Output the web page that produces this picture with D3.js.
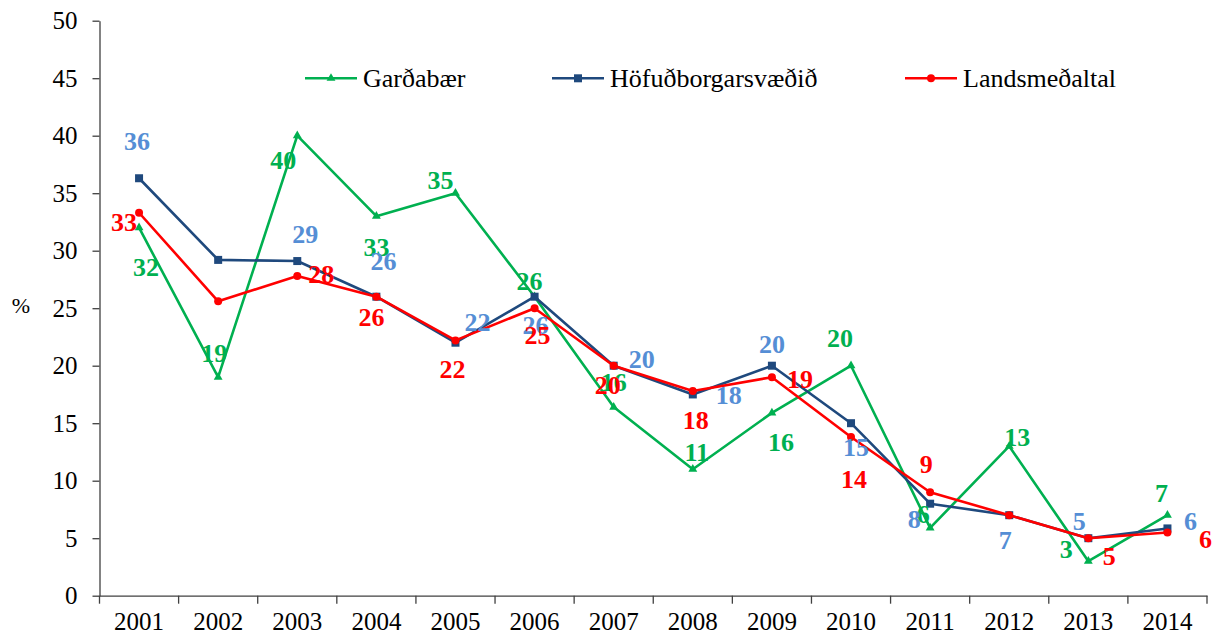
<!DOCTYPE html>
<html>
<head>
<meta charset="utf-8">
<script src="https://cdn.jsdelivr.net/npm/d3@7"></script>
<style>
  html, body { margin: 0; padding: 0; background: #fff; }
  svg { display: block; }
</style>
</head>
<body>
<svg id="chart" width="1224" height="641"></svg>
<script>
// ---- data ----
const years = ["2001","2002","2003","2004","2005","2006","2007","2008","2009","2010","2011","2012","2013","2014"];
const gardabaer = [32, 19, 40, 33, 35, 26, 16.4, 11, 15.9, 20, 5.9, 13, 3, 7];
const hofudborg = [36.3, 29.2, 29.1, 26, 22, 26, 20, 17.5, 20, 15, 8, 7, 5, 5.85];
const lands = [33.3, 25.6, 27.8, 26, 22.2, 25, 20, 17.8, 19, 13.8, 9, 7, 5, 5.5];
const yTicks = [0, 5, 10, 15, 20, 25, 30, 35, 40, 45, 50];
const seriesNames = ["Garðabær", "Höfuðborgarsvæðið", "Landsmeðaltal"];

// ---- label placement (layout only): [dx, dy] from point to label center/baseline; null = no label ----
const gLabelOff = [[7,48],[-4,-15],[-14,33],[0,40],[-15,-4],[-5,-7],[0,-16],[4,-8],[9,38],[-11,-19],[-7,-5],[8,0],[-22,-3],[-6,-13]];
const hLabelOff = [[-2,-28],null,[8,-18],[7,-27],[22,-12],[1,37],[28,2],[36,10],[0,-13],[5,33],[-16,24],[-4,34],[-9,-8],[23,2]];
const lLabelOff = [[-15,18],null,[24,7],[-5,29],[-3,38],[3,36],[-6,28],[3,38],[28,11],[3,51],[-4,-19],null,[21,27],[38,16]];

const svg = d3.select("#chart");
const mLeft = 99.5, mRight = 1207, mTop = 20.7, mBottom = 595.7;

const x = d3.scaleBand().domain(years).range([mLeft, mRight]).padding(0);
const y = d3.scaleLinear().domain([0, 50]).range([mBottom, mTop]);
const cx = d => x(d) + x.bandwidth() / 2;

const serif = "'Liberation Serif', 'Times New Roman', serif";
const axisColor = "#404040";

// Y axis
const yAxis = svg.append("g").attr("transform", `translate(${mLeft},0)`)
  .call(d3.axisLeft(y).tickValues(yTicks).tickSize(7).tickPadding(15).tickSizeOuter(0));
yAxis.select(".domain").attr("stroke", axisColor).attr("stroke-width", 1.3);
yAxis.selectAll(".tick line").attr("stroke", axisColor).attr("stroke-width", 1.3);
yAxis.selectAll(".tick text").attr("font-family", serif).attr("font-size", 25).attr("fill", "#000");

// X axis
const xAxis = svg.append("g").attr("transform", `translate(0,${mBottom})`)
  .call(d3.axisBottom(x).tickSize(0).tickPadding(17).tickSizeOuter(0));
xAxis.select(".domain").attr("stroke", axisColor).attr("stroke-width", 1.3);
xAxis.selectAll(".tick text").attr("font-family", serif).attr("font-size", 25).attr("fill", "#000");
const bounds = years.map(d => x(d)).concat([mRight]);
xAxis.selectAll("line.bound").data(bounds).enter().append("line")
  .attr("class", "bound")
  .attr("x1", d => d).attr("x2", d => d).attr("y1", 0).attr("y2", 8)
  .attr("stroke", axisColor).attr("stroke-width", 1.3);

// % label
svg.append("text").attr("x", 21).attr("y", 313).attr("text-anchor", "middle")
  .attr("font-family", serif).attr("font-size", 22).text("%");

const series = [
  { name: seriesNames[0], values: gardabaer, color: "#00B050", labelColor: "#00B050", marker: "tri", off: gLabelOff },
  { name: seriesNames[1], values: hofudborg, color: "#1F497D", labelColor: "#558ED5", marker: "sq", off: hLabelOff },
  { name: seriesNames[2], values: lands, color: "#FF0000", labelColor: "#FF0000", marker: "circ", off: lLabelOff }
];

const line = d3.line().x((d, i) => cx(years[i])).y(d => y(d));

function drawMarker(g, mx, my, type, color) {
  if (type === "tri") {
    g.append("path").attr("d", d3.symbol(d3.symbolTriangle, 34)()).attr("transform", `translate(${mx},${my})`).attr("fill", color);
  } else if (type === "sq") {
    g.append("rect").attr("x", mx - 4).attr("y", my - 4).attr("width", 8).attr("height", 8).attr("fill", color);
  } else {
    g.append("circle").attr("cx", mx).attr("cy", my).attr("r", 4).attr("fill", color);
  }
}

series.forEach(s => {
  const g = svg.append("g");
  g.append("path").datum(s.values).attr("d", line).attr("fill", "none")
    .attr("stroke", s.color).attr("stroke-width", 2.6).attr("stroke-linejoin", "round");
  s.values.forEach((v, i) => drawMarker(g, cx(years[i]), y(v), s.marker, s.color));
});

// data labels
series.forEach(s => {
  const g = svg.append("g");
  s.values.forEach((v, i) => {
    const o = s.off[i];
    if (!o) return;
    g.append("text").attr("x", cx(years[i]) + o[0]).attr("y", y(v) + o[1])
      .attr("text-anchor", "middle").attr("font-family", serif).attr("font-weight", "bold")
      .attr("font-size", 26).attr("fill", s.labelColor).text(Math.round(v));
  });
});

// legend
const legendX = [305, 552, 905];
const legendY = 78.3;
series.forEach((s, i) => {
  const g = svg.append("g");
  g.append("line").attr("x1", legendX[i]).attr("x2", legendX[i] + 52).attr("y1", legendY).attr("y2", legendY)
    .attr("stroke", s.color).attr("stroke-width", 2.6);
  drawMarker(g, legendX[i] + 26, legendY, s.marker, s.color);
  g.append("text").attr("x", legendX[i] + 58).attr("y", legendY + 8.5)
    .attr("font-family", serif).attr("font-size", 26).attr("fill", "#000").text(s.name);
});
</script>
</body>
</html>
